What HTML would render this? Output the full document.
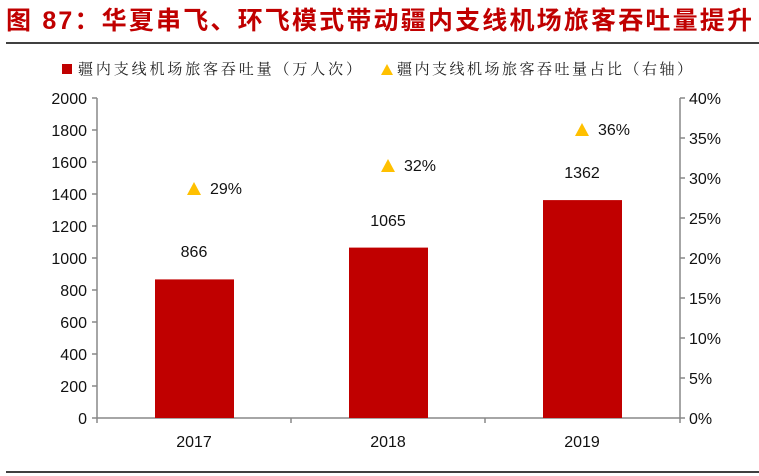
<!DOCTYPE html>
<html><head><meta charset="utf-8"><style>
html,body{margin:0;padding:0;background:#fff;width:759px;height:476px;overflow:hidden}
</style></head><body>
<svg width="759" height="476" xmlns="http://www.w3.org/2000/svg" font-family="Liberation Sans, Noto Sans CJK SC, sans-serif">
<text x="6" y="29" font-size="25" font-weight="bold" fill="#c00000" textLength="746" lengthAdjust="spacing" font-family="Liberation Sans, Noto Sans CJK SC, sans-serif">图 87：华夏串飞、环飞模式带动疆内支线机场旅客吞吐量提升</text>
<line x1="6" y1="43" x2="759" y2="43" stroke="#000" stroke-width="1.5"/>
<line x1="6" y1="472" x2="759" y2="472" stroke="#000" stroke-width="1.5"/>
<rect x="62" y="64" width="10" height="10" fill="#c00000"/>
<text x="78" y="74" font-size="15" fill="#222" textLength="283" lengthAdjust="spacing" font-family="Noto Serif CJK SC, serif">疆内支线机场旅客吞吐量（万人次）</text>
<polygon points="381,75 387,64 393,75" fill="#ffc000"/>
<text x="397" y="74" font-size="15" fill="#222" textLength="295" lengthAdjust="spacing" font-family="Noto Serif CJK SC, serif">疆内支线机场旅客吞吐量占比（右轴）</text>
<g stroke="#888" stroke-width="1.5" fill="none">
<line x1="97" y1="98" x2="97" y2="418"/>
<line x1="97" y1="418" x2="680" y2="418"/>
<line x1="680" y1="98" x2="680" y2="418"/>
<path d="M92 98H97M92 130H97M92 162H97M92 194H97M92 226H97M92 258H97M92 290H97M92 322H97M92 354H97M92 386H97M92 418H97"/>
<path d="M680 98H685M680 138H685M680 178H685M680 218H685M680 258H685M680 298H685M680 338H685M680 378H685M680 418H685"/>
<path d="M97 418V423M291 418V423M485 418V423M680 418V423"/>
</g>
<g font-size="16" fill="#111" text-anchor="end">
<text x="87" y="104">2000</text><text x="87" y="136">1800</text><text x="87" y="168">1600</text><text x="87" y="200">1400</text><text x="87" y="232">1200</text><text x="87" y="264">1000</text><text x="87" y="296">800</text><text x="87" y="328">600</text><text x="87" y="360">400</text><text x="87" y="392">200</text><text x="87" y="424">0</text>
</g>
<g font-size="16" fill="#111">
<text x="689" y="104">40%</text><text x="689" y="144">35%</text><text x="689" y="184">30%</text><text x="689" y="224">25%</text><text x="689" y="264">20%</text><text x="689" y="304">15%</text><text x="689" y="344">10%</text><text x="689" y="384">5%</text><text x="689" y="424">0%</text>
</g>
<g fill="#c00000">
<rect x="155" y="279.4" width="79" height="138.6"/>
<rect x="349" y="247.6" width="79" height="170.4"/>
<rect x="543" y="200.1" width="79" height="217.9"/>
</g>
<g font-size="16" fill="#111" text-anchor="middle">
<text x="194" y="257">866</text><text x="388" y="226">1065</text><text x="582" y="178">1362</text>
<text x="194" y="447">2017</text><text x="388" y="447">2018</text><text x="582" y="447">2019</text>
</g>
<g fill="#ffc000">
<polygon points="187,195 194,182 201,195"/>
<polygon points="381,172 388,159 395,172"/>
<polygon points="575,136 582,123 589,136"/>
</g>
<g font-size="16" fill="#111">
<text x="210" y="194">29%</text><text x="404" y="171">32%</text><text x="598" y="135">36%</text>
</g>
</svg>
</body></html>
